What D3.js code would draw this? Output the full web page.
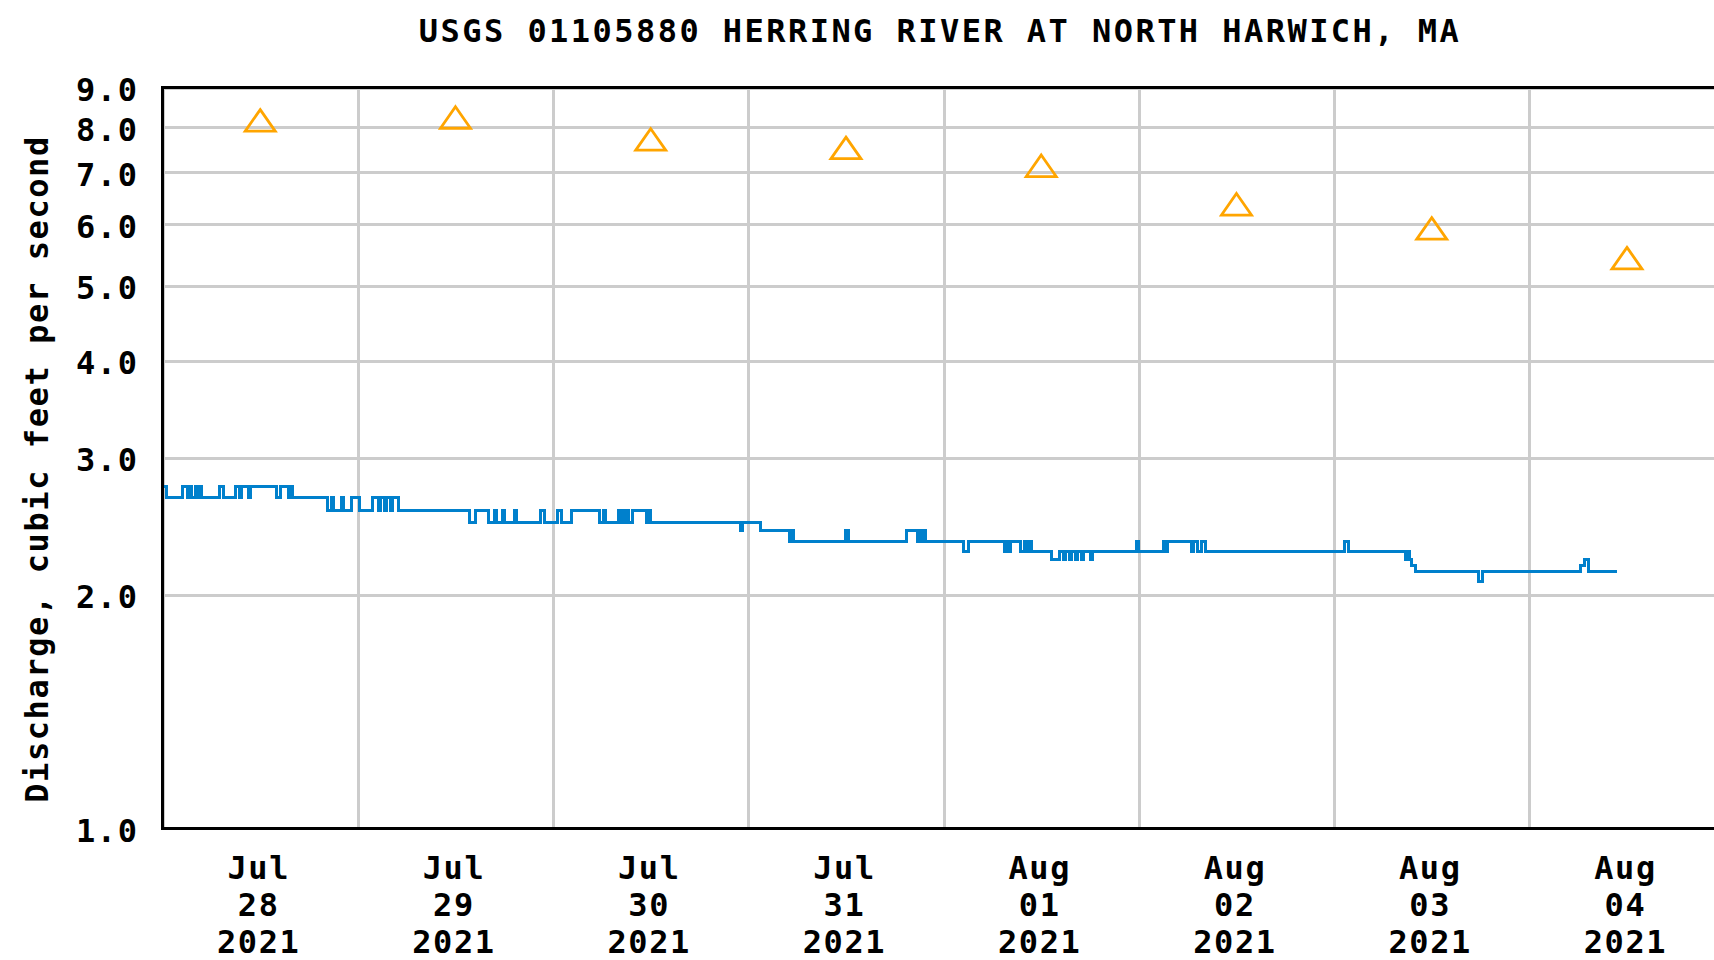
<!DOCTYPE html>
<html>
<head>
<meta charset="utf-8">
<script src="https://cdn.jsdelivr.net/npm/d3@7"></script>
<style>
body { margin: 0; background: #fff; }
svg text { font-family: "DejaVu Sans Mono", monospace; font-weight: bold; font-size: 32px; fill: #000; letter-spacing: 1.6px; }
</style>
</head>
<body>
<div id="chart"></div>
<script>
const title = "USGS 01105880 HERRING RIVER AT NORTH HARWICH, MA";
const yLabel = "Discharge, cubic feet per second";

// days on the x axis (label sits at noon)
const days = ["2021-07-28", "2021-07-29", "2021-07-30", "2021-07-31", "2021-08-01", "2021-08-02", "2021-08-03", "2021-08-04"];
const dayMonth = ["Jul", "Jul", "Jul", "Jul", "Aug", "Aug", "Aug", "Aug"];
const dayNum = ["28", "29", "30", "31", "01", "02", "03", "04"];
const dayYear = ["2021", "2021", "2021", "2021", "2021", "2021", "2021", "2021"];

const yTicks = [1, 2, 3, 4, 5, 6, 7, 8, 9];

// median of daily statistic (orange triangles)
const medianFlows = [8.17, 8.24, 7.72, 7.53, 7.14, 6.37, 5.93, 5.43];

// 15-minute discharge, stored as runs of equal value.
// runEnds = sample index (15 min steps from Jul 28 00:00) where the run stops
const runEnds = [
    2, 10, 12, 13, 14, 16, 17, 18, 19, 28, 30, 36, 38, 39, 42, 43, 56, 58, 62, 63, 64, 81,
    83, 84, 88, 89, 93, 97, 103, 106, 107, 109, 110, 112, 113, 116, 151,
    154, 160, 163, 164, 167, 168, 173, 174, 186, 188, 194, 196, 201, 215, 217, 218,
    224, 225, 226, 227, 228, 229, 231, 238, 239, 240, 284, 285, 294,
    308, 309, 310, 336, 337, 366, 371, 372, 373, 374, 375, 394, 396, 414, 415, 416, 417,
    422, 424, 425, 426, 427, 437, 441, 443, 444, 446, 447, 449, 450, 452, 453, 456, 457,
    479, 480, 492, 493, 494, 506, 507, 509, 511, 513, 581, 583, 611, 612, 613, 614, 616,
    647, 649, 697, 699, 701, 715
];
const runFlows = [
    2.76, 2.67, 2.76, 2.67, 2.76, 2.67, 2.76, 2.67, 2.76, 2.67, 2.76, 2.67, 2.76, 2.67, 2.76, 2.67, 2.76, 2.67, 2.76, 2.67, 2.76, 2.67,
    2.57, 2.67, 2.57, 2.67, 2.57, 2.67, 2.57, 2.67, 2.57, 2.67, 2.57, 2.67, 2.57, 2.67, 2.57,
    2.48, 2.57, 2.48, 2.57, 2.48, 2.57, 2.48, 2.57, 2.48, 2.57, 2.48, 2.57, 2.48, 2.57, 2.48, 2.57,
    2.48, 2.57, 2.48, 2.57, 2.48, 2.57, 2.48, 2.57, 2.48, 2.57, 2.48, 2.42, 2.48,
    2.42, 2.34, 2.42, 2.34, 2.42, 2.34, 2.42, 2.34, 2.42, 2.34, 2.42, 2.34, 2.27, 2.34, 2.27, 2.34, 2.27,
    2.34, 2.27, 2.34, 2.27, 2.34, 2.27, 2.22, 2.27, 2.22, 2.27, 2.22, 2.27, 2.22, 2.27, 2.22, 2.27, 2.22,
    2.27, 2.34, 2.27, 2.34, 2.27, 2.34, 2.27, 2.34, 2.27, 2.34, 2.27, 2.34, 2.27, 2.22, 2.27, 2.22, 2.18,
    2.14, 2.08, 2.14, 2.18, 2.22, 2.14
];

const canvWidth = 1714, canvHeight = 960;
const svg = d3.select("#chart")
    .append("svg")
    .attr("width", canvWidth)
    .attr("height", canvHeight);

const plot = {left: 162.6, right: 1724.6, top: 87.5, bottom: 828.3};

const t0 = new Date("2021-07-28T00:00:00Z");
const step = 15 * 60 * 1000;

const x = d3.scaleUtc()
    .domain([t0, new Date("2021-08-05T00:00:00Z")])
    .range([plot.left, plot.right]);

const y = d3.scaleLog()
    .domain([1, 9])
    .range([plot.bottom, plot.top]);

//------GRID-----------------------------------------------------
const gridX = svg.append("g")
    .attr("transform", `translate(0,${plot.bottom})`)
    .call(d3.axisBottom(x)
        .tickValues(d3.utcDay.range(t0, new Date("2021-08-06T00:00:00Z")))
        .tickSize(-(plot.bottom - plot.top))
        .tickFormat(""));

const gridY = svg.append("g")
    .attr("transform", `translate(${plot.left},0)`)
    .call(d3.axisLeft(y)
        .tickValues(yTicks)
        .tickSize(-(plot.right - plot.left))
        .tickFormat(""));

[gridX, gridY].forEach(gr => {
    gr.select(".domain").remove();
    gr.selectAll(".tick line")
        .attr("stroke", "#cccccc")
        .attr("stroke-width", 3)
        .attr("shape-rendering", "crispEdges");
});

//------DATA-----------------------------------------------------
const points = runFlows.map((v, i) => ({
    t: new Date(t0.getTime() + (i === 0 ? 0 : runEnds[i - 1]) * step),
    v: v
}));
points.push({t: new Date(t0.getTime() + runEnds[runEnds.length - 1] * step), v: runFlows[runFlows.length - 1]});

const line = d3.line()
    .x(d => x(d.t))
    .y(d => y(d.v))
    .curve(d3.curveStepAfter);

svg.append("path")
    .datum(points)
    .attr("d", line)
    .attr("fill", "none")
    .attr("stroke", "#0080cc")
    .attr("stroke-width", 3)
    .attr("shape-rendering", "crispEdges");

// median triangles
const noons = days.map(d => new Date(d + "T12:00:00Z"));

svg.append("g")
    .selectAll("path")
    .data(medianFlows)
    .enter()
    .append("path")
    .attr("transform", (d, i) => `translate(${x(noons[i])},${y(d)})`)
    .attr("d", "M0,-10.5L15,11L-15,11Z")
    .attr("fill", "none")
    .attr("stroke", "#ffa500")
    .attr("stroke-width", 2.8);

//------BORDER + AXES-----------------------------------------------------
svg.append("rect")
    .attr("x", plot.left)
    .attr("y", plot.top)
    .attr("width", plot.right - plot.left)
    .attr("height", plot.bottom - plot.top)
    .attr("fill", "none")
    .attr("stroke", "#000")
    .attr("stroke-width", 3)
    .attr("shape-rendering", "crispEdges");

const yAxis = svg.append("g")
    .attr("transform", `translate(${plot.left},0)`)
    .call(d3.axisLeft(y)
        .tickValues(yTicks)
        .tickFormat(d3.format(".1f"))
        .tickSize(0)
        .tickPadding(24));
yAxis.select(".domain").remove();
yAxis.selectAll(".tick text").attr("dy", 13);

const xAxis = svg.append("g")
    .attr("transform", `translate(0,${plot.bottom})`)
    .call(d3.axisBottom(x)
        .tickValues(noons)
        .tickSize(0)
        .tickFormat(""));
xAxis.select(".domain").remove();
xAxis.selectAll(".tick text").each(function (d, i) {
    const t = d3.select(this).attr("y", 0).attr("dy", null);
    [dayMonth[i], dayNum[i], dayYear[i]].forEach((s, k) => {
        t.append("tspan")
            .attr("x", -2)
            .attr("y", 50.4 + k * 37)
            .text(s);
    });
});

// title and y label
svg.append("text")
    .attr("x", 940)
    .attr("y", 42)
    .attr("text-anchor", "middle")
    .style("letter-spacing", "2.45px")
    .text(title);

svg.append("text")
    .attr("transform", "translate(48,469) rotate(-90)")
    .attr("text-anchor", "middle")
    .text(yLabel);
</script>
</body>
</html>
